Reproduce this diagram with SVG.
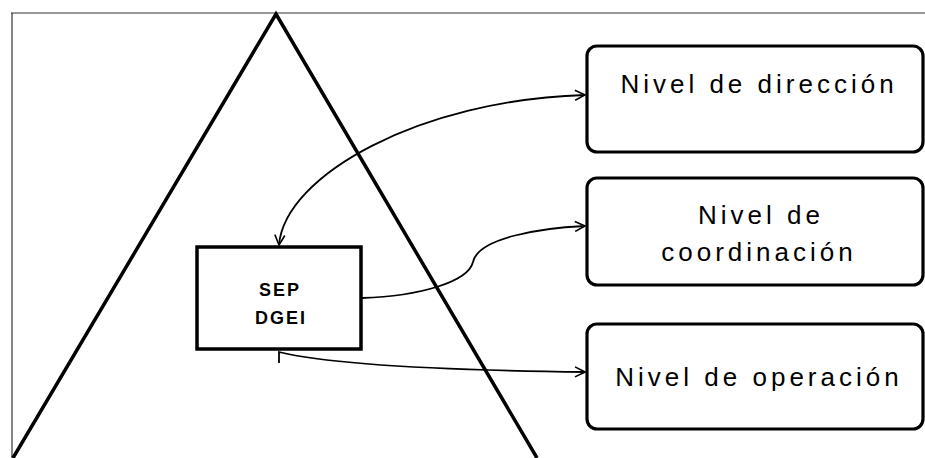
<svg xmlns="http://www.w3.org/2000/svg" width="925" height="458" viewBox="0 0 925 458">
<style>
.frame{fill:none;stroke:#333;stroke-width:1.2}
.tri{fill:none;stroke:#000;stroke-width:3.5}
.box{fill:#fff;stroke:#000;stroke-width:3.5}
.lvl{fill:#fff;stroke:#000;stroke-width:3.2}
.conn{fill:none;stroke:#000;stroke-width:1.8}
.t{font-family:"Liberation Sans",Arial,sans-serif;font-size:26px;letter-spacing:4px;fill:#000;text-anchor:middle}
.b{font-family:"Liberation Sans",Arial,sans-serif;font-size:18px;font-weight:bold;letter-spacing:2px;fill:#000;text-anchor:middle}
</style>
<defs>
<marker id="arr" viewBox="0 0 12 12" refX="11" refY="6" markerWidth="12" markerHeight="12" markerUnits="userSpaceOnUse" orient="auto-start-reverse">
<path d="M1 1 L11 6 L1 11" fill="none" stroke="#000" stroke-width="1.6"/>
</marker>
</defs>
<g id="frame">
<line class="frame" x1="11" y1="13" x2="925" y2="13"/>
<line class="frame" x1="12" y1="13" x2="12" y2="458"/>
</g>
<g id="pyramid">
<polyline class="tri" points="13,458 276,14 537,458"/>
</g>
<g id="connectors">
<path class="conn" d="M279 245 C285 175 420 100 585 95" marker-start="url(#arr)" marker-end="url(#arr)"/>
<path class="conn" d="M362 298 C420 296 468 282 473 262 C478 238 540 228 585 226" marker-end="url(#arr)"/>
<path class="conn" d="M279 363 L279 352 C320 362 420 370 585 372" marker-end="url(#arr)"/>
</g>
<g id="sep">
<rect class="box" x="197" y="247" width="164" height="102"/>
<text class="b" x="280" y="296">SEP</text>
<text class="b" x="281" y="324">DGEI</text>
</g>
<g id="direccion">
<rect class="lvl" x="587" y="46" width="336" height="106" rx="10"/>
<text class="t" x="759" y="93">Nivel de dirección</text>
</g>
<g id="coordinacion">
<rect class="lvl" x="587" y="178" width="336" height="107" rx="10"/>
<text class="t" x="761" y="224">Nivel de</text>
<text class="t" x="759" y="261">coordinación</text>
</g>
<g id="operacion">
<rect class="lvl" x="587" y="324" width="336" height="105" rx="10"/>
<text class="t" x="759" y="386">Nivel de operación</text>
</g>
</svg>
